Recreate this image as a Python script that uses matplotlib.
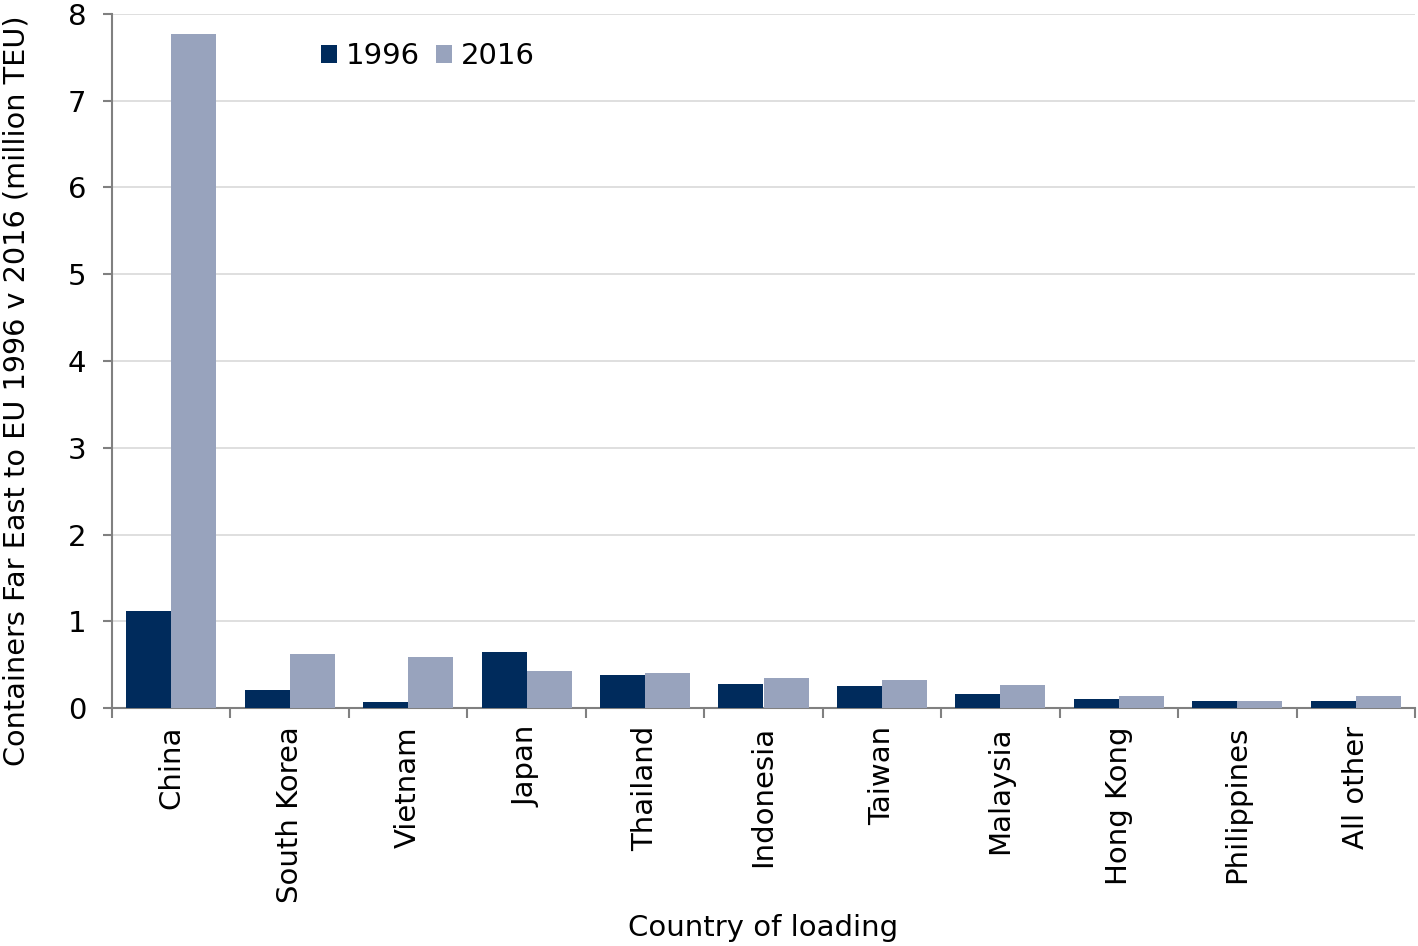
import numpy as np
import matplotlib.pyplot as plt

countries = ['China', 'South Korea', 'Vietnam', 'Japan', 'Thailand', 'Indonesia',
             'Taiwan', 'Malaysia', 'Hong Kong', 'Philippines', 'All other']
teu_1996 = [1.12, 0.21, 0.07, 0.645, 0.38, 0.28, 0.25, 0.165, 0.10, 0.08, 0.08]
teu_2016 = [7.77, 0.62, 0.59, 0.43, 0.40, 0.345, 0.32, 0.27, 0.135, 0.08, 0.135]

c96 = '#002b5c'
c16 = '#98a3bd'
fs = 21

fig = plt.figure(figsize=(14.18, 9.46), dpi=100)
ax = fig.add_axes([112/1418, 1 - 708/946, (1415-112)/1418, (708-14)/946])

x = np.arange(len(countries))
w = 0.38
ax.bar(x - w/2, teu_1996, w, color=c96, label='1996', zorder=3)
ax.bar(x + w/2, teu_2016, w, color=c16, label='2016', zorder=3)

ax.set_xlim(-0.5, len(countries) - 0.5)
ax.set_ylim(0, 8)
ax.set_yticks(range(0, 9))
ax.yaxis.grid(True, color='#d9d9d9', linewidth=1.2, zorder=0)

ax.set_xticks(x)
ax.set_xticklabels(countries, rotation=90, fontsize=fs)
ax.set_xticks(np.arange(-0.5, len(countries)), minor=True)
ax.tick_params(axis='x', which='major', length=0, pad=13)
ax.tick_params(axis='x', which='minor', length=7, color='#808080', width=1.5)
ax.tick_params(axis='y', labelsize=fs, length=6.5, color='#808080', width=1.5, pad=12)

for s in ['top', 'right']:
    ax.spines[s].set_visible(False)
for s in ['left', 'bottom']:
    ax.spines[s].set_color('#808080')
    ax.spines[s].set_linewidth(1.5)

ax.set_xlabel('Country of loading', fontsize=fs, labelpad=8)
ax.set_ylabel('Containers Far East to EU 1996 v 2016 (million TEU)', fontsize=20.7)
ax.yaxis.set_label_coords(17/1418, 1 - 391/946, transform=fig.transFigure)
ax.yaxis.label.set_va('center')

ax.legend(loc='upper left', bbox_to_anchor=(0.14, 0.997), ncol=2, frameon=False,
          fontsize=fs, handlelength=0.55, handleheight=0.55, handletextpad=0.3,
          columnspacing=0.55)

fig.savefig('out.png', dpi=100)
